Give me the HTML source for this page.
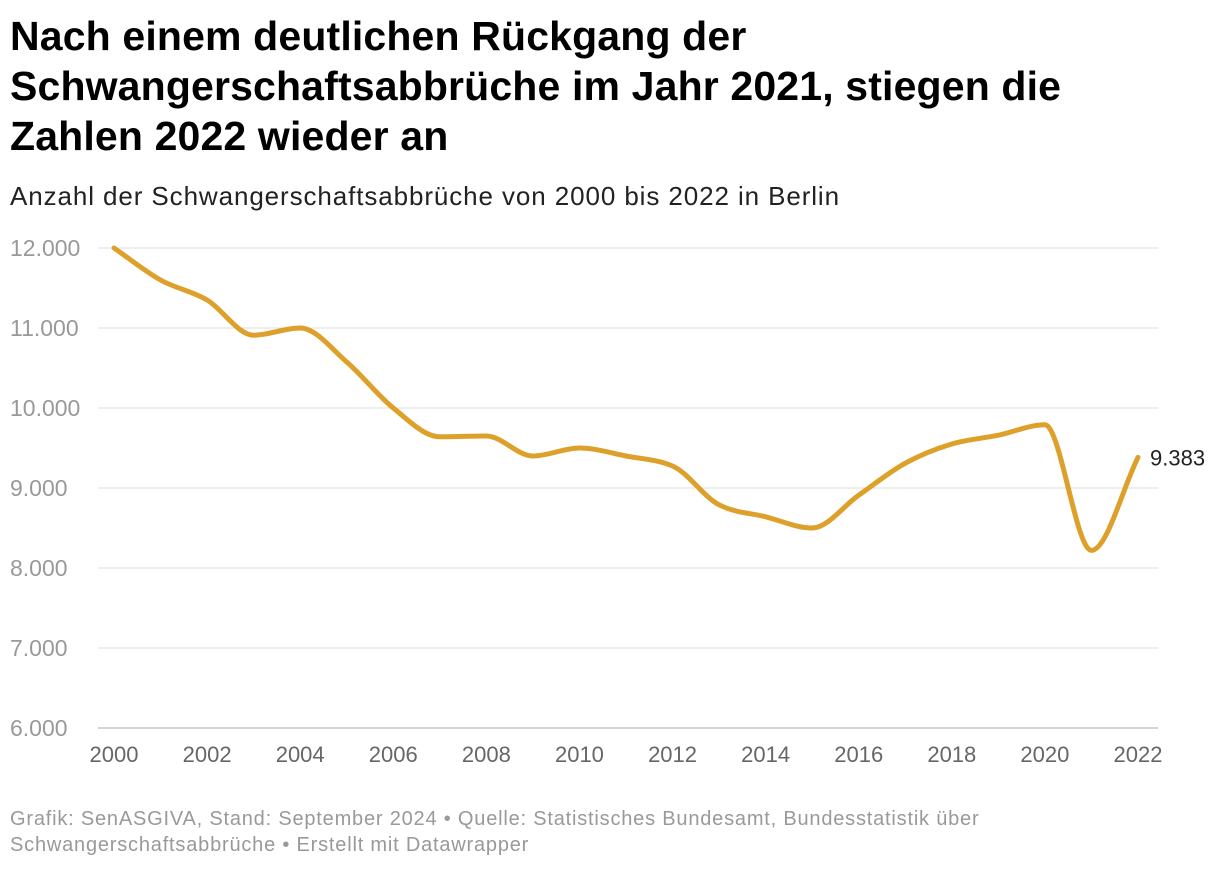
<!DOCTYPE html>
<html><head><meta charset="utf-8">
<style>
body{margin:0;width:1220px;height:870px;background:#fff;font-family:"Liberation Sans",sans-serif;overflow:hidden;position:relative}
h1{position:absolute;left:10px;top:11px;margin:0;font-size:41px;line-height:50px;font-weight:bold;color:#000;width:1090px;letter-spacing:0.15px}
.sub{position:absolute;left:10px;top:181px;font-size:26px;color:#222;letter-spacing:0.9px}
.foot{position:absolute;left:10px;top:806px;font-size:20px;line-height:26px;color:#999;letter-spacing:0.8px}
svg{position:absolute;left:0;top:0}
</style></head><body>
<h1>Nach einem deutlichen Rückgang der Schwangerschaftsabbrüche im Jahr 2021, stiegen die Zahlen 2022 wieder an</h1>
<div class="sub">Anzahl der Schwangerschaftsabbrüche von 2000 bis 2022 in Berlin</div>
<svg id="chart" width="1220" height="870"></svg>
<div class="foot">Grafik: SenASGIVA, Stand: September 2024 • Quelle: Statistisches Bundesamt, Bundesstatistik über<br>Schwangerschaftsabbrüche • Erstellt mit Datawrapper</div>
<script>
const years=[2000,2001,2002,2003,2004,2005,2006,2007,2008,2009,2010,2011,2012,2013,2014,2015,2016,2017,2018,2019,2020,2021,2022];
const values=[12000,11600,11350,10910,11000,10575,10000,9640,9650,9400,9500,9400,9275,8790,8640,8500,8910,9310,9550,9660,9790,8220,9383];
const yTicks=[6000,7000,8000,9000,10000,11000,12000];
const xTicks=[2000,2002,2004,2006,2008,2010,2012,2014,2016,2018,2020,2022];
const NS="http://www.w3.org/2000/svg";
const svg=document.getElementById('chart');
const x=v=>114+(v-2000)*(1138-114)/22;
const y=v=>728-(v-6000)*480/6000;
const fmt=v=>String(v).replace(/\B(?=(\d{3})+(?!\d))/g,'.');
function mk(t,a){const e=document.createElementNS(NS,t);for(const k in a)e.setAttribute(k,a[k]);svg.appendChild(e);return e;}
yTicks.forEach(v=>{
 const l=mk('line',{x1:98,x2:1158,y1:y(v),y2:y(v),stroke:v===6000?'#aaa':'#ddd','stroke-width':1});
 
 
 const t=mk('text',{x:10,y:y(v)+8,'font-size':23,fill:'#999'});t.textContent=fmt(v);
 
 
});
xTicks.forEach(v=>{
 const t=mk('text',{x:x(v),y:762,'font-size':22,fill:'#666','text-anchor':'middle'});t.textContent=v;
 
 
});
const px=years.map(x),py=values.map(y),n=px.length;
const d=[],m=[];
for(let i=0;i<n-1;i++)d.push((py[i+1]-py[i])/(px[i+1]-px[i]));
for(let i=0;i<n;i++){
 if(i===0)m.push(d[0]);else if(i===n-1)m.push(d[n-2]);
 else{ if(d[i-1]*d[i]<=0)m.push(0); else{const h0=px[i]-px[i-1],h1=px[i+1]-px[i];const p=(d[i-1]*h1+d[i]*h0)/(h0+h1);
 m.push((Math.sign(d[i-1])+Math.sign(d[i]))*Math.min(Math.abs(d[i-1]),Math.abs(d[i]),0.5*Math.abs(p)));}}
}
let path='M'+px[0]+','+py[0];
for(let i=0;i<n-1;i++){const h=(px[i+1]-px[i])/3;
 path+=`C${px[i]+h},${py[i]+m[i]*h} ${px[i+1]-h},${py[i+1]-m[i+1]*h} ${px[i+1]},${py[i+1]}`;}
const line=mk('path',{d:path,fill:'none',stroke:'#dda12b','stroke-width':5,'stroke-linecap':'round','stroke-linejoin':'round'});


const lab=mk('text',{x:px[n-1]+12,y:py[n-1]+8,'font-size':22,fill:'#222'});lab.textContent=fmt(values[n-1]);


</script>
</body></html>
